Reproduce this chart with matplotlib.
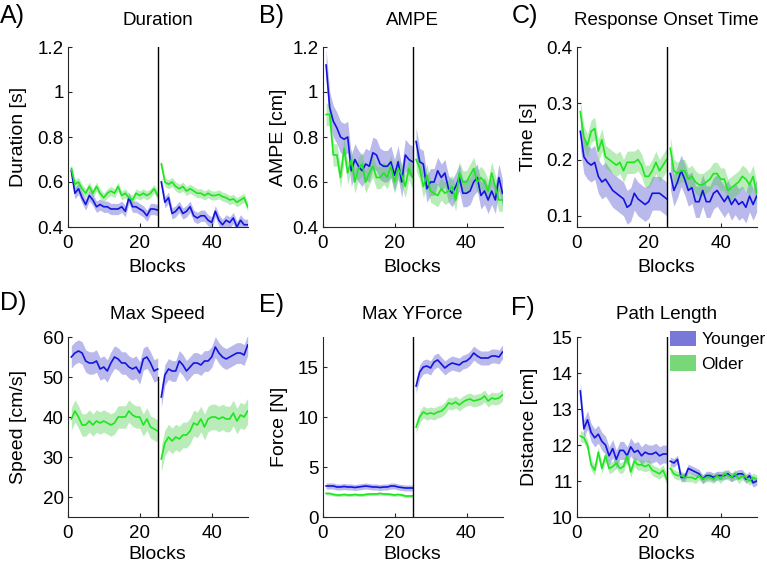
import matplotlib.pyplot as plt
import numpy as np
from matplotlib.patches import Patch

plt.rcParams['font.family'] = ['Liberation Sans', 'DejaVu Sans']

blocks = np.arange(1, 51)

# A) Duration
dur_young = [0.65, 0.55, 0.57, 0.53, 0.50, 0.54, 0.52, 0.49, 0.50, 0.49, 0.49, 0.48, 0.48,
             0.48, 0.49, 0.47, 0.53, 0.49, 0.49, 0.48, 0.47, 0.45, 0.48, 0.48, 0.475,
             0.60, 0.51, 0.53, 0.46, 0.47, 0.49, 0.46, 0.47, 0.49, 0.45, 0.44, 0.45, 0.45,
             0.43, 0.42, 0.47, 0.43, 0.41, 0.43, 0.42, 0.44, 0.40, 0.43, 0.41, 0.41]
dur_old = [0.66, 0.59, 0.60, 0.57, 0.55, 0.58, 0.55, 0.58, 0.55, 0.53, 0.55, 0.56, 0.55,
           0.58, 0.54, 0.55, 0.53, 0.52, 0.55, 0.54, 0.55, 0.54, 0.55, 0.57, 0.54,
           0.68, 0.60, 0.59, 0.60, 0.58, 0.57, 0.58, 0.56, 0.57, 0.56, 0.55, 0.55, 0.54,
           0.55, 0.54, 0.54, 0.545, 0.535, 0.53, 0.52, 0.525, 0.51, 0.52, 0.53, 0.49]
dur_sem_young = [0.025, 0.025]
dur_sem_old = [0.02, 0.02]

# B) AMPE
ampe_young = [1.12, 0.93, 0.87, 0.84, 0.80, 0.79, 0.80, 0.65, 0.70, 0.67, 0.65, 0.68, 0.67,
              0.73, 0.72, 0.68, 0.67, 0.67, 0.69, 0.63, 0.69, 0.60, 0.72, 0.70, 0.69,
              0.78, 0.69, 0.68, 0.57, 0.60, 0.60, 0.65, 0.62, 0.64, 0.57, 0.55, 0.58, 0.62,
              0.55, 0.55, 0.56, 0.60, 0.62, 0.54, 0.56, 0.52, 0.56, 0.52, 0.62, 0.55]
ampe_old = [0.90, 0.90, 0.72, 0.72, 0.62, 0.75, 0.64, 0.70, 0.60, 0.66, 0.68, 0.60, 0.64,
            0.67, 0.62, 0.62, 0.64, 0.62, 0.67, 0.60, 0.66, 0.63, 0.58, 0.66, 0.62,
            0.70, 0.66, 0.58, 0.63, 0.56, 0.55, 0.54, 0.57, 0.55, 0.56, 0.58, 0.52, 0.64,
            0.60, 0.60, 0.63, 0.66, 0.60, 0.62, 0.60, 0.56, 0.64, 0.58, 0.52, 0.52]
ampe_sem_young = [0.07, 0.06]
ampe_sem_old = [0.05, 0.05]

# C) Response onset time
rot_young = [0.25, 0.205, 0.195, 0.19, 0.195, 0.17, 0.16, 0.165, 0.155, 0.145, 0.14, 0.135,
             0.13, 0.115, 0.12, 0.14, 0.13, 0.125, 0.12, 0.125, 0.14, 0.14, 0.14, 0.135, 0.13,
             0.175, 0.145, 0.16, 0.18, 0.165, 0.145, 0.15, 0.125, 0.125, 0.145, 0.125, 0.125,
             0.14, 0.145, 0.135, 0.125, 0.135, 0.12, 0.13, 0.12, 0.125, 0.115, 0.135, 0.12, 0.135]
rot_old = [0.285, 0.24, 0.225, 0.25, 0.255, 0.215, 0.235, 0.205, 0.20, 0.195, 0.19, 0.195,
           0.18, 0.195, 0.195, 0.195, 0.20, 0.19, 0.17, 0.17, 0.18, 0.195, 0.18, 0.19, 0.20,
           0.22, 0.18, 0.175, 0.18, 0.18, 0.165, 0.17, 0.16, 0.155, 0.155, 0.16, 0.165, 0.175,
           0.175, 0.165, 0.165, 0.145, 0.15, 0.155, 0.16, 0.17, 0.165, 0.155, 0.17, 0.14]
rot_sem_young = [0.03, 0.028]
rot_sem_old = [0.02, 0.02]

# D) Max speed
spd_young = [55, 56, 56.5, 56, 54, 53.5, 53.5, 54, 52, 52.5, 51.5, 53.5, 55, 54.5, 53.5,
             53.5, 52.5, 52, 52.5, 51, 54.5, 55, 53.5, 51.5, 52,
             45, 50.5, 52, 51.5, 51.5, 54, 53, 51.5, 52.5, 53.5, 53.5, 53, 54, 54, 55,
             57.5, 56, 55, 54.5, 55, 55.5, 56, 56, 55.5, 58]
spd_old = [39.5, 41.5, 40, 38, 38, 39, 38, 39, 38.5, 39, 38.5, 38, 38.5, 40, 40, 40, 41.5,
           40.5, 40, 40, 38, 39.5, 37.5, 37, 36.5,
           29.5, 33.5, 35, 34, 35, 34.5, 35.5, 35.5, 36.5, 38.5, 38, 39.5, 37.5, 39.5, 40,
           40, 39.5, 40, 39.5, 39.5, 41, 39, 40.5, 40, 41.5]
spd_sem_young = [2.8, 2.6]
spd_sem_old = [2.8, 3.2]

# E) Max Y force
frc_young = [3.1, 3.1, 3.1, 3.0, 3.0, 3.05, 3.0, 3.0, 2.95, 3.0, 3.05, 3.1, 3.05, 3.0, 3.0,
             2.95, 3.0, 3.0, 3.1, 3.1, 3.0, 2.95, 2.9, 2.9, 2.9,
             13.1, 14.5, 15.0, 15.1, 14.9, 15.5, 15.7, 15.3, 14.9, 15.2, 15.4, 15.3, 15.2,
             15.5, 15.6, 15.9, 16.4, 16.1, 15.9, 15.9, 15.9, 16.1, 16.1, 16.0, 16.5]
frc_old = [2.35, 2.35, 2.25, 2.2, 2.2, 2.25, 2.2, 2.2, 2.25, 2.2, 2.2, 2.25, 2.3, 2.3, 2.3,
           2.35, 2.3, 2.3, 2.25, 2.2, 2.25, 2.2, 2.1, 2.1, 2.1,
           9.0, 10.0, 10.5, 10.3, 10.4, 10.3, 10.5, 10.6, 10.9, 11.4, 11.3, 11.5, 11.2, 11.5,
           11.7, 11.8, 11.6, 11.7, 11.8, 12.1, 11.6, 11.9, 11.8, 11.9, 12.2]
frc_sem_young = [0.3, 0.7]
frc_sem_old = [0.15, 0.6]

# F) Path length
pl_young = [13.5, 12.45, 12.7, 12.35, 12.2, 12.3, 12.1, 12.0, 11.7, 11.9, 11.6, 11.85, 11.85,
            11.7, 11.95, 11.8, 11.85, 11.7, 11.8, 11.75, 11.75, 11.8, 11.7, 11.75, 11.75,
            11.55, 11.5, 11.6, 11.1, 11.1, 11.35, 11.3, 11.25, 11.2, 11.05, 11.15, 11.15, 11.1,
            11.15, 11.15, 11.15, 11.2, 11.1, 11.15, 11.2, 11.2, 11.05, 11.15, 10.95, 11.0]
pl_old = [12.25, 12.2, 12.0, 11.45, 11.3, 11.8, 11.35, 11.7, 11.35, 11.4, 11.5, 11.35, 11.4,
          11.7, 11.25, 11.55, 11.45, 11.45, 11.4, 11.45, 11.3, 11.25, 11.2, 11.3, 11.05,
          11.35, 11.2, 11.15, 11.15, 11.1, 11.1, 11.1, 11.05, 11.15, 11.05, 11.1, 11.1, 11.05,
          11.15, 11.05, 11.2, 11.15, 11.1, 11.2, 11.05, 11.15, 11.1, 11.0, 11.1, 11.05]
pl_sem_young = [0.25, 0.12]
pl_sem_old = [0.15, 0.12]

blue = '#1414e0'
green = '#1ee61e'
blue_fill = '#5050d0'
green_fill = '#50d050'

panels = [
    ('A)', 'Duration', 'Duration [s]', dur_young, dur_old, dur_sem_young, dur_sem_old,
     (0.4, 1.2), [0.4, 0.6, 0.8, 1.0, 1.2], ['0.4', '0.6', '0.8', '1', '1.2'], None, -0.226),
    ('B)', 'AMPE', 'AMPE [cm]', ampe_young, ampe_old, ampe_sem_young, ampe_sem_old,
     (0.4, 1.2), [0.4, 0.6, 0.8, 1.0, 1.2], ['0.4', '0.6', '0.8', '1', '1.2'], None, -0.198),
    ('C)', 'Response Onset Time', 'Time [s]', rot_young, rot_old, rot_sem_young, rot_sem_old,
     (0.08, 0.4), [0.1, 0.2, 0.3, 0.4], ['0.1', '0.2', '0.3', '0.4'], None, -0.22),
    ('D)', 'Max Speed', 'Speed [cm/s]', spd_young, spd_old, spd_sem_young, spd_sem_old,
     (15, 60), [20, 30, 40, 50, 60], None, 50, -0.226),
    ('E)', 'Max YForce', 'Force [N]', frc_young, frc_old, frc_sem_young, frc_sem_old,
     (0, 18), [0, 5, 10, 15], None, None, -0.194),
    ('F)', 'Path Length', 'Distance [cm]', pl_young, pl_old, pl_sem_young, pl_sem_old,
     (10, 15), [10, 11, 12, 13, 14, 15], None, None, -0.215),
]

lefts = [67.7, 322.5, 576.7]
tops = [47, 337]
letter_pos = [(0, 16), (259, 16), (512, 16), (0, 303), (259, 305), (511, 308)]

fig = plt.figure(figsize=(7.67, 5.70), dpi=100)
W, H = 767, 570

for i, (letter, title, ylab, young, old, sy, so, ylim, yt, ytl, vtop, ylx) in enumerate(panels):
    row, col = divmod(i, 3)
    ax = fig.add_axes([lefts[col] / W, 1 - (tops[row] + 180) / H, 180 / W, 180 / H])
    young = np.array(young)
    old = np.array(old)
    for seg in (slice(0, 25), slice(25, 50)):
        k = 0 if seg.start == 0 else 1
        x = blocks[seg]
        ax.fill_between(x, young[seg] - sy[k], young[seg] + sy[k], color=blue_fill,
                        alpha=0.4, lw=0)
        ax.fill_between(x, old[seg] - so[k], old[seg] + so[k], color=green_fill,
                        alpha=0.4, lw=0)
    for seg in (slice(0, 25), slice(25, 50)):
        ax.plot(blocks[seg], young[seg], color=blue, lw=1.2)
        ax.plot(blocks[seg], old[seg], color=green, lw=1.2)
    ax.plot([25, 25], [ylim[0], vtop if vtop else ylim[1]], color='black', lw=1.0)

    ax.set_xlim(0, 50)
    ax.set_ylim(*ylim)
    ax.set_xticks([0, 20, 40])
    ax.set_yticks(yt)
    if ytl:
        ax.set_yticklabels(ytl)
    for s in ('top', 'right'):
        ax.spines[s].set_visible(False)
    for s in ('left', 'bottom'):
        ax.spines[s].set_color('#262626')
        ax.spines[s].set_linewidth(0.8)
    ax.tick_params(direction='in', length=3, width=0.8, color='#262626', labelsize=13.5)
    ax.tick_params(axis='x', pad=6)
    ax.tick_params(axis='y', pad=3)
    ax.set_xlabel('Blocks', fontsize=14)
    ax.xaxis.set_label_coords(0.5, -0.18 if row == 0 else -0.16)
    ax.set_ylabel(ylab, fontsize=14)
    ax.yaxis.set_label_coords(ylx, 0.5)
    ax.set_title(title, fontsize=13.5, pad=16 if row == 0 else 13)

    lx, ly = letter_pos[i]
    fig.text(lx / W, 1 - ly / H, letter, fontsize=18, ha='left', va='center')

    if letter == 'F)':
        handles = [Patch(facecolor='#7878d8', edgecolor='none', label='Younger'),
                   Patch(facecolor='#78d878', edgecolor='none', label='Older')]
        ax.legend(handles=handles, loc='upper right', frameon=False, fontsize=12.5,
                  handlelength=1.5, handleheight=1.0, handletextpad=0.3,
                  labelspacing=0.45, borderaxespad=0.0, borderpad=0.0,
                  bbox_to_anchor=(1.05, 1.035))

fig.savefig('out.png', dpi=100)
